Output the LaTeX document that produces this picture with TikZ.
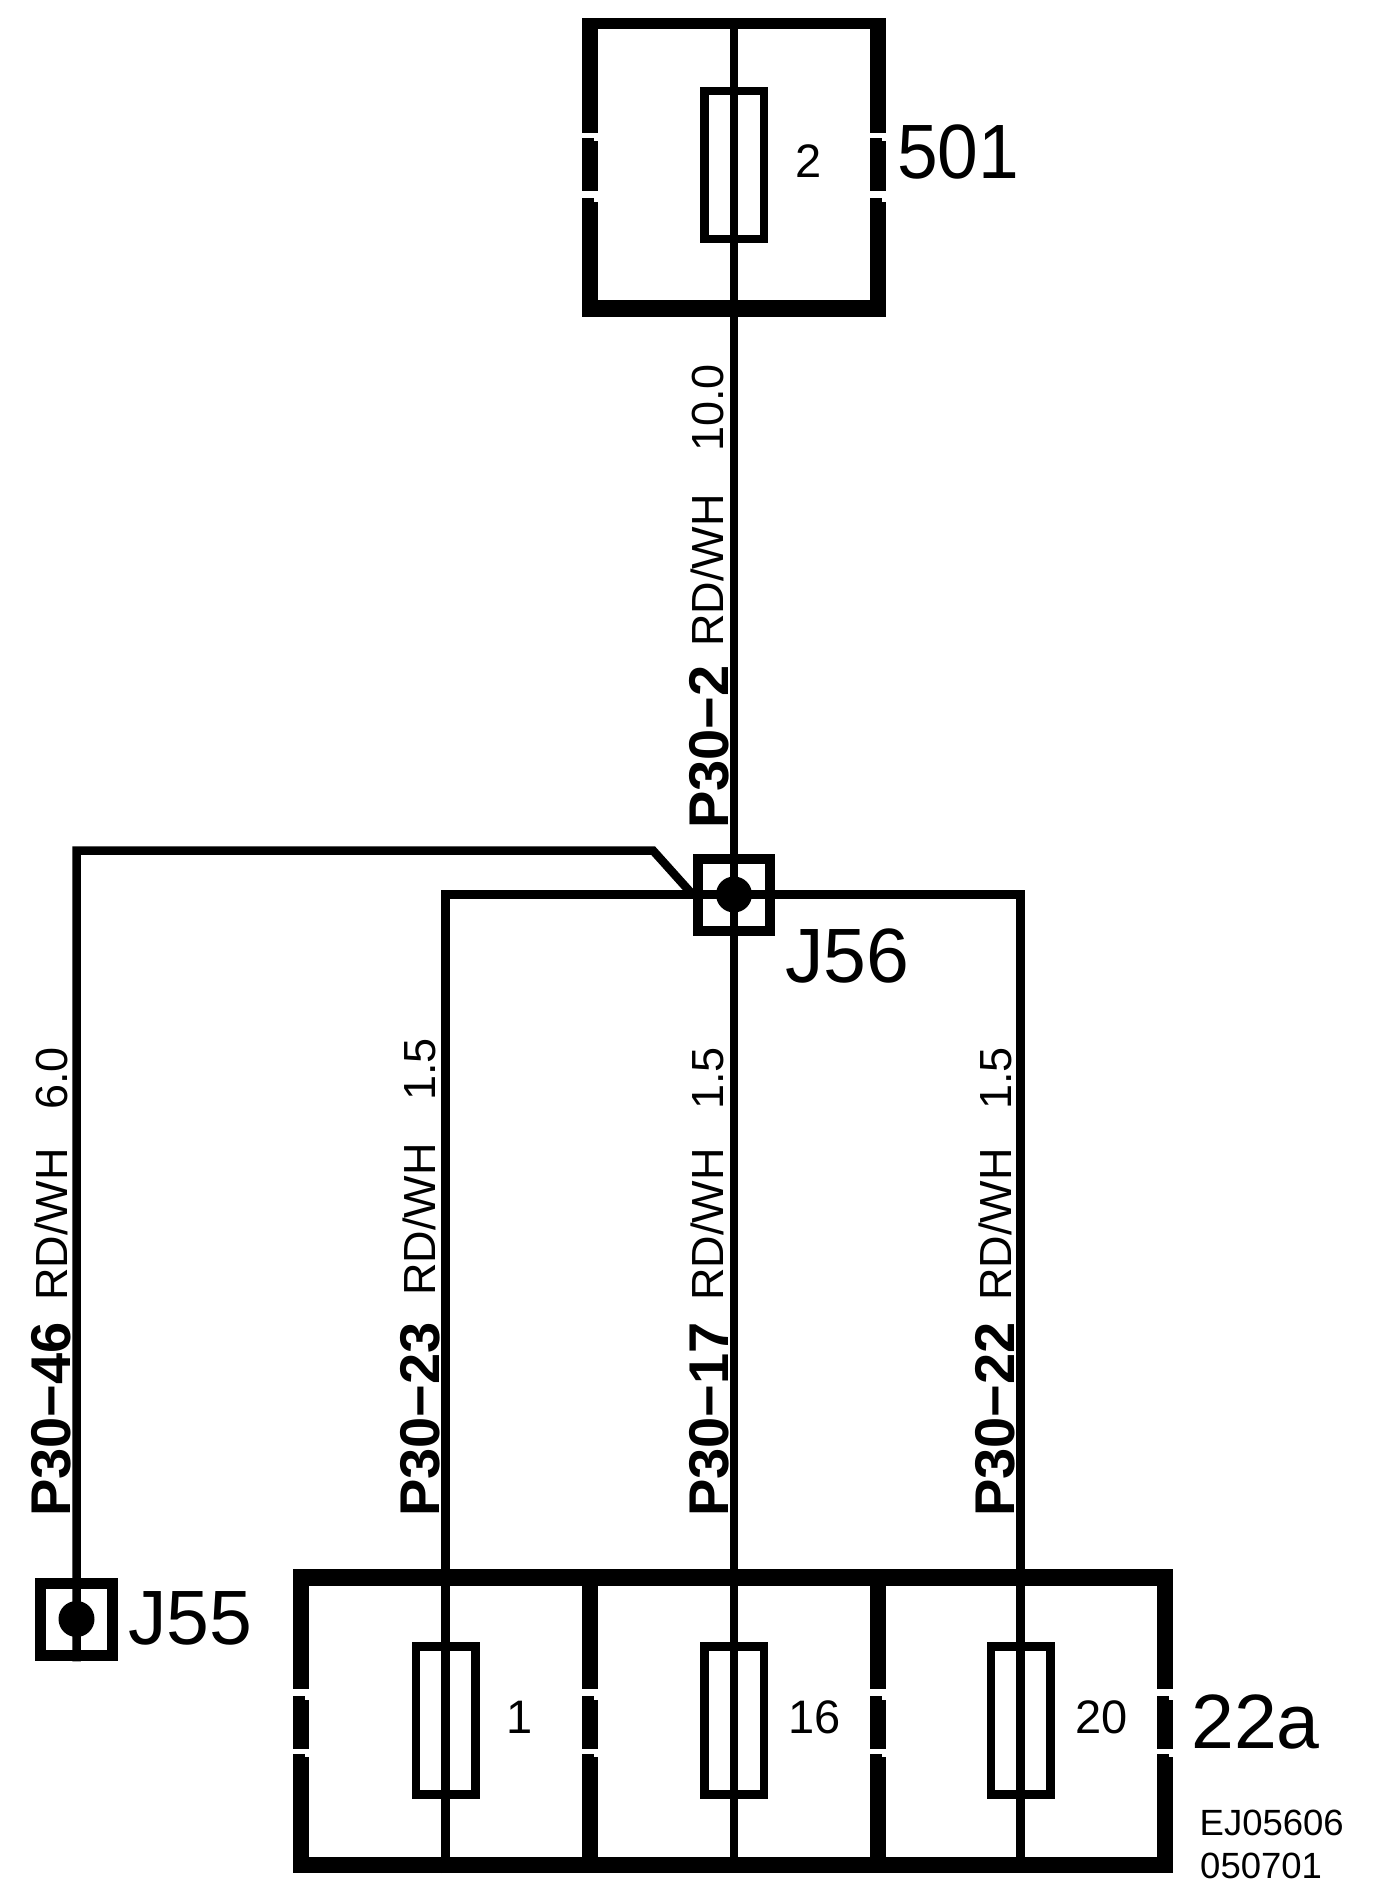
\documentclass[tikz,border=0pt]{standalone}
\usepackage{fontspec}
\setmainfont{Liberation Sans}
\usetikzlibrary{calc,positioning}

\begin{document}
\begin{tikzpicture}[x=1pt,y=-1pt]

\tikzset{inner sep=0mm,
wire/.style={line width=8.5pt,line join=miter},
fuse/.style={draw=black,line width=8.5pt,minimum width=59.5pt,minimum height=148pt},
joint/.style={draw=black,minimum width=72pt,minimum height=72pt},
jdot/.style={circle,fill=black,minimum size=36pt},
pinlabel/.style={rotate=90,anchor=base west,font=\fontsize{56}{56}\selectfont\bfseries},
wirelabel/.style={rotate=90,anchor=base west,font=\fontsize{45}{45}\selectfont},
numlabel/.style={anchor=base west,font=\fontsize{47}{47}\selectfont},
namelabel/.style={anchor=base west,font=\fontsize{77}{77}\selectfont},
reflabel/.style={anchor=base west,font=\fontsize{36.5}{36.5}\selectfont}}

\useasboundingbox (0,0) rectangle (1392,1896);

% Frame of fuse box 501
\fill[black] (582,18) rectangle (886,317);
\fill[white] (598,29) rectangle (870,300);
\foreach \wx in {582,870} {
  \fill[white] (\wx,133) rectangle +(16,4.5);
  \fill[white] (\wx+12,137) rectangle +(4,4);
  \fill[white] (\wx,191) rectangle +(16,7);
  \fill[white] (\wx+12,198) rectangle +(4,4);
}

% Frame of fuse box 22a
\fill[black] (293,1569) rectangle (1173,1873);
\fill[white] (309,1586) rectangle (582,1857);
\fill[white] (598,1586) rectangle (870,1857);
\fill[white] (886,1586) rectangle (1157,1857);
\foreach \wx in {293,582,870,1157} {
  \fill[white] (\wx,1689) rectangle +(16,7);
  \fill[white] (\wx+12,1696) rectangle +(4,4);
  \fill[white] (\wx,1749) rectangle +(16,4.5);
  \fill[white] (\wx+12,1753) rectangle +(4,4);
}

% Fuses
\node[fuse] (fuse2) at (734,165) {};
\node[fuse] (fuse1) at (445.5,1720.5) {};
\node[fuse] (fuse16) at (734,1720.5) {};
\node[fuse] (fuse20) at (1020.5,1720.5) {};

% Joints
\node[joint,line width=10pt] (j56) at (733.5,894.5) {};
\node[jdot] (j56dot) at (734,894.5) {};
\node[joint,line width=11.5pt] (j55) at (76.5,1619.5) {};
\node[jdot] (j55dot) at (76.5,1619) {};

% Nodes: wire ends and bends
\coordinate (top2) at (734,18);
\coordinate (bot1) at (445.5,1873);
\coordinate (bot16) at (734,1873);
\coordinate (bot20) at (1020.5,1873);
\coordinate (bend1) at (445.5,894.5);
\coordinate (bend20) at (1020.5,894.5);
\coordinate (bendl) at (76.5,850.5);
\coordinate (bendm) at (653,850.5);

% Wires
\draw[wire] (top2) -- (fuse2.center) -- (j56dot.center) -- (fuse16.center) -- (bot16);
\draw[wire] (bot1) -- (fuse1.center) -- (bend1) -- (j56dot.center) -- (bend20) -- (fuse20.center) -- (bot20);
\draw[wire] (j55.south) -- (j55dot.center) -- (bendl) -- (bendm) -- (j56.west);

% Labels on wires
\node[pinlabel] (pin2) at (728,829) {P30−2};
\node[wirelabel] (col2) at (723,647) {RD/WH};
\node[wirelabel] (size2) at (723,452) {10.0};

\node[pinlabel] (pin46) at (70,1517) {P30−46};
\node[wirelabel] (col46) at (67,1301) {RD/WH};
\node[wirelabel] (size46) at (67,1110) {6.0};

\node[pinlabel] (pin23) at (439,1517) {P30−23};
\node[wirelabel] (col23) at (435,1296) {RD/WH};
\node[wirelabel] (size23) at (435,1101) {1.5};

\node[pinlabel] (pin17) at (728,1517) {P30−17};
\node[wirelabel] (col17) at (723,1301) {RD/WH};
\node[wirelabel] (size17) at (723,1110) {1.5};

\node[pinlabel] (pin22) at (1014,1517) {P30−22};
\node[wirelabel] (col22) at (1011,1301) {RD/WH};
\node[wirelabel] (size22) at (1011,1110) {1.5};

% Fuse numbers
\node[numlabel] (num2) at (795,177) {2};
\node[numlabel] (num1) at (506,1733) {1};
\node[numlabel] (num16) at (788,1733) {16};
\node[numlabel] (num20) at (1075,1733) {20};

% Names
\node[namelabel,xscale=.95] (name501) at (897,178) {501};
\node[namelabel] (name55) at (128,1644) {J55};
\node[namelabel] (name56) at (785,982) {J56};
\node[namelabel] (name22a) at (1191,1748) {22a};

\node[reflabel] (ref1) at (1199.5,1835) {EJ05606};
\node[reflabel] (ref2) at (1200,1878) {050701};

\end{tikzpicture}
\end{document}
